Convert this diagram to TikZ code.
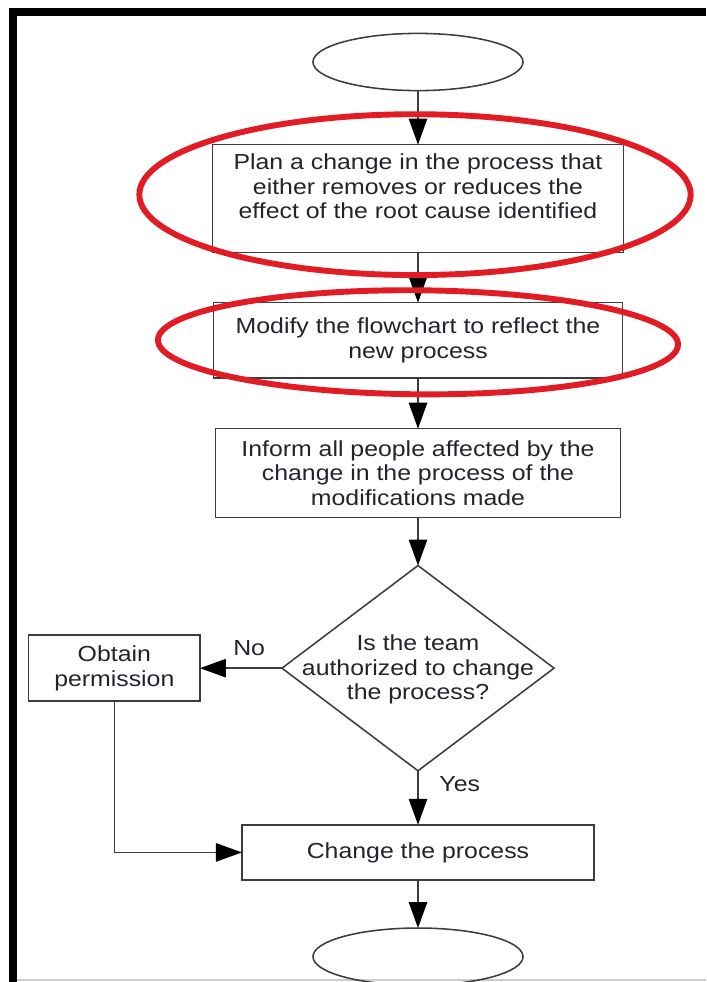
\documentclass[tikz,border=0pt]{standalone}
\usepackage{fontspec}
\setmainfont{Liberation Sans}[FakeStretch=1.14]
\usetikzlibrary{positioning,arrows.meta,shapes.geometric}
\definecolor{markred}{RGB}{226,28,36}
\definecolor{linegray}{RGB}{60,60,60}
\definecolor{inkgray}{RGB}{35,35,45}

\begin{document}
\begin{tikzpicture}[
        x=0.025cm, y=-0.025cm,
        every node/.style={align=center, font=\fontsize{15.5}{17.5}\selectfont, text=inkgray},
        terminal/.style={ellipse, draw=linegray, line width=1.1pt, minimum width=5.25cm, minimum height=1.43cm, inner sep=0pt, outer sep=0pt},
        process/.style={rectangle, draw=linegray, line width=1.1pt, inner sep=0pt, outer sep=0pt},
        decision/.style={diamond, draw=linegray, line width=1.1pt, minimum width=6.8cm, minimum height=5.13cm, inner sep=0pt, outer sep=0pt},
        flow/.style={draw=linegray, line width=1.1pt, -{Triangle[length=6.5mm, width=4.6mm, color=black]}},
        highlight/.style={draw=markred, line width=4.2pt}
    ]
    \useasboundingbox (0,0) rectangle (706,982);

    % Frame of the screenshot
    \fill[black] (9,8) rectangle (706,16);
    \fill[black] (9,8) rectangle (17,982);
    \draw[black!20, line width=0.8pt] (17,980) -- (706,980);

    % Main column
    \node[terminal] (start) at (418,62) {};
    \node[process, below=1.35cm of start, minimum width=10.28cm, minimum height=2.7cm] (plan) {Plan a change in the process that\\either removes or reduces the\\effect of the root cause identified\\~};
    \node[process, below=1.25cm of plan, minimum width=10.22cm, minimum height=1.88cm] (modify) {Modify the flowchart to reflect the\\new process};
    \node[process, below=1.27cm of modify, minimum width=10.12cm, minimum height=2.22cm] (inform) {Inform all people affected by the\\change in the process of the\\modifications made};
    \node[decision, below=1.2cm of inform, label={[align=center, yshift=-0.03cm]center:Is the team\\authorized to change\\the process?}] (auth) {};
    \node[process, below=1.35cm of auth, minimum width=8.8cm, minimum height=1.38cm] (change) {Change the process};
    \node[terminal, below=1.2cm of change] (finish) {};

    % Side branch
    \node[process, left=2.05cm of auth, minimum width=4.28cm, minimum height=1.65cm] (obtain) {Obtain\\permission};

    % Arrows
    \draw[flow] (start) -- (plan);
    \draw[flow] (plan) -- (modify);
    \draw[flow] (modify) -- (inform);
    \draw[flow] (inform) -- (auth);
    \draw[flow] (auth) -- node[pos=0.4, above=1.8mm] {No} (obtain);
    \draw[flow] (auth) -- node[pos=0.25, right=4mm] {Yes} (change);
    \draw[flow] (obtain) |- (change);
    \draw[flow] (change) -- (finish);

    % Red marks
    \draw[highlight] ([xshift=-0.075cm, yshift=0.1cm]plan.center) ellipse [x radius=6.89cm, y radius=2.01cm];
    \draw[highlight] ([yshift=-0.05cm]modify.center) ellipse [x radius=6.5cm, y radius=1.3cm, rotate=-0.5];

\end{tikzpicture}
\end{document}
